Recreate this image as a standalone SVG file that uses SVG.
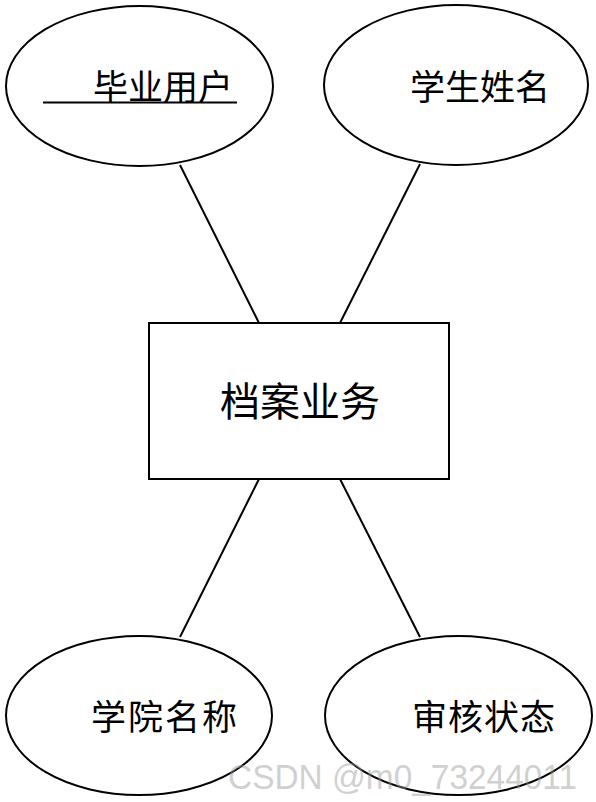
<svg xmlns="http://www.w3.org/2000/svg" width="596" height="802" viewBox="0 0 596 802">
<style>
.shape{fill:#fff;stroke:#000;stroke-width:2}
.lbl{font-family:"Noto Sans CJK SC","Noto Sans",sans-serif;font-size:35px;fill:#000;dominant-baseline:central}
.link{stroke:#000;stroke-width:2;fill:none}
</style>
<rect width="596" height="802" fill="#fff"/>
<g id="connectors">
<line class="link" x1="180" y1="165" x2="259" y2="323"/>
<line class="link" x1="420" y1="164" x2="340" y2="323"/>
<line class="link" x1="259" y1="479" x2="180" y2="637"/>
<line class="link" x1="340" y1="479" x2="420" y2="637"/>
</g>
<g id="node-biye">
<ellipse class="shape" cx="139.5" cy="86" rx="133.5" ry="80"/>
<text class="lbl" x="93" y="84" textLength="140">毕业用户</text>
<line x1="43" y1="102.5" x2="237" y2="102.5" stroke="#000" stroke-width="2"/>
</g>
<g id="node-xingming">
<ellipse class="shape" cx="456" cy="85" rx="132" ry="80"/>
<text class="lbl" x="410" y="84" textLength="140">学生姓名</text>
</g>
<g id="node-dangan">
<rect class="shape" x="149" y="323" width="300" height="156"/>
<text class="lbl" x="220" y="399" style="font-size:40px" textLength="160">档案业务</text>
</g>
<g id="node-xueyuan">
<ellipse class="shape" cx="139" cy="715.5" rx="133" ry="79.5"/>
<text class="lbl" x="91" y="714" textLength="146">学院名称</text>
</g>
<g id="node-shenhe">
<ellipse class="shape" cx="458.5" cy="715.5" rx="133.5" ry="79.5"/>
<text class="lbl" x="412" y="714" textLength="143">审核状态</text>
</g>
<text x="228" y="789" font-family="'Liberation Sans',sans-serif" font-size="35" fill="#999" opacity="0.45" textLength="349" lengthAdjust="spacingAndGlyphs">CSDN @m0_73244011</text>
</svg>
